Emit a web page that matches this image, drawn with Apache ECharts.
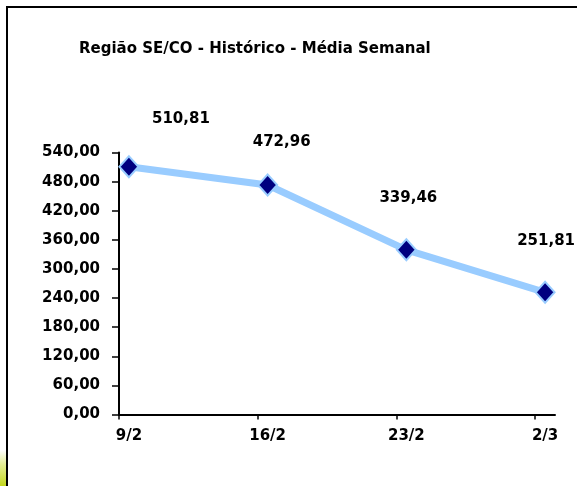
<!DOCTYPE html>
<html>
<head>
<meta charset="utf-8">
<script src="https://cdn.jsdelivr.net/npm/echarts@6/dist/echarts.min.js"></script>
<style>html,body{margin:0;padding:0;background:#fff;}#c{width:577px;height:486px;}</style>
</head>
<body>
<div id="c"></div>
<script>
// ---- data ----
const categories = ['9/2', '16/2', '23/2', '2/3'];
const dayOffsets = [0.5, 7.5, 14.5, 21.5];      // days since 9/2 (midday of each week date)
const weekStarts = [0, 7, 14, 21];               // tick days
const values = [510.81, 472.96, 339.46, 251.81];
const yTicks = [0, 60, 120, 180, 240, 300, 360, 420, 480, 540];

const fmt = v => v.toFixed(2).replace('.', ',');
const FONT = 'DejaVu Sans';

// label offsets (style only)
const labelOffsets = [[52, -48], [14, -43], [2, -52], [1, -51]];

const chart = echarts.init(document.getElementById('c'), null, {renderer: 'canvas'});
chart.setOption({
  animation: false,
  backgroundColor: '#ffffff',
  title: {
    text: 'Região SE/CO - Histórico - Média Semanal',
    left: 74, top: 37,
    textStyle: {fontFamily: FONT, fontWeight: 'bold', fontSize: 15, color: '#000'}
  },
  graphic: [
    {type: 'rect', z: -1, shape: {x: 7, y: 7, width: 620, height: 620},
     style: {fill: 'none', stroke: '#000', lineWidth: 2}},
    {type: 'rect', z: -1, shape: {x: 0, y: 450, width: 6, height: 36},
     style: {fill: new echarts.graphic.LinearGradient(0, 0, 0, 1, [
        {offset: 0, color: 'rgba(200,220,40,0)'},
        {offset: 0.4, color: 'rgba(200,220,40,0.5)'},
        {offset: 1, color: 'rgba(195,215,30,1)'}])}}
  ],
  grid: {left: 119, top: 152.5, right: 22, bottom: 71.5},
  xAxis: {
    type: 'value', min: 0, max: 22,
    splitLine: {show: false},
    axisLine: {show: true, onZero: false, lineStyle: {color: '#000', width: 2}},
    axisTick: {show: true, length: 5, customValues: weekStarts, lineStyle: {color: '#000', width: 1.5}},
    axisLabel: {
      customValues: dayOffsets,
      margin: 14,
      fontFamily: FONT, fontWeight: 'bold', fontSize: 15, color: '#000',
      formatter: v => {
        const i = dayOffsets.indexOf(v);
        return i >= 0 ? categories[i] : '';
      }
    }
  },
  yAxis: {
    type: 'value', min: yTicks[0], max: yTicks[yTicks.length - 1], interval: yTicks[1] - yTicks[0],
    splitLine: {show: false},
    axisLine: {show: true, lineStyle: {color: '#000', width: 2}},
    axisTick: {show: true, length: 7, lineStyle: {color: '#000', width: 1.5}},
    axisLabel: {
      margin: 19,
      fontFamily: FONT, fontWeight: 'bold', fontSize: 15, color: '#000',
      formatter: v => fmt(v)
    }
  },
  series: [{
    type: 'line',
    data: values.map((v, i) => ({
      value: [dayOffsets[i], v],
      label: {offset: labelOffsets[i]}
    })),
    symbol: 'diamond',
    symbolSize: [19, 21],
    lineStyle: {color: '#99CCFF', width: 7},
    itemStyle: {color: '#000080', borderColor: '#99CCFF', borderWidth: 2},
    label: {
      show: true, position: 'inside',
      fontFamily: FONT, fontWeight: 'bold', fontSize: 15, color: '#000',
      formatter: p => fmt(p.value[1])
    },
    emphasis: {disabled: true}
  }]
});
</script>
</body>
</html>
